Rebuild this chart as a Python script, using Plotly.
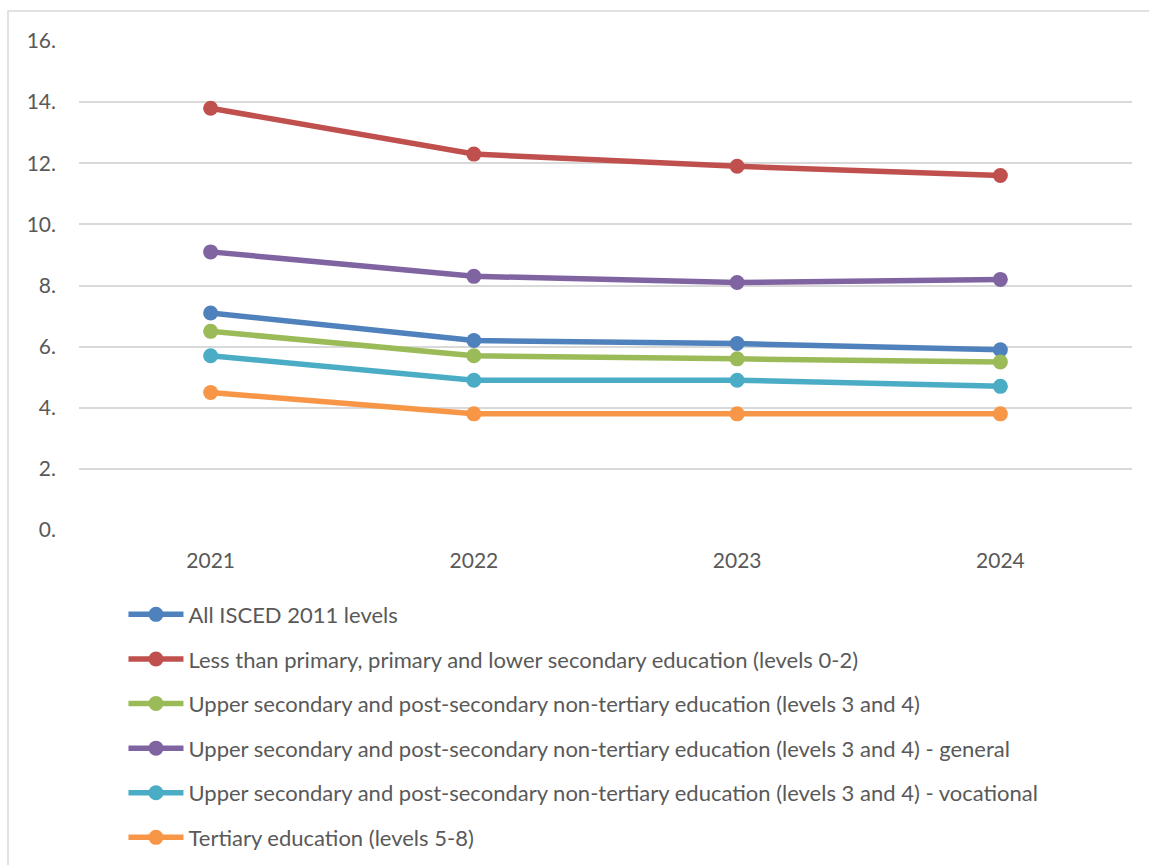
import plotly.graph_objects as go

years = ["2021", "2022", "2023", "2024"]
series_names = [
    "All ISCED 2011 levels",
    "Less than primary, primary and lower secondary education (levels 0-2)",
    "Upper secondary and post-secondary non-tertiary education (levels 3 and 4)",
    "Upper secondary and post-secondary non-tertiary education (levels 3 and 4) - general",
    "Upper secondary and post-secondary non-tertiary education (levels 3 and 4) - vocational",
    "Tertiary education (levels 5-8)",
]
all_levels = [7.1, 6.2, 6.1, 5.9]
levels_0_2 = [13.8, 12.3, 11.9, 11.6]
levels_3_4 = [6.5, 5.7, 5.6, 5.5]
levels_3_4_general = [9.1, 8.3, 8.1, 8.2]
levels_3_4_vocational = [5.7, 4.9, 4.9, 4.7]
levels_5_8 = [4.5, 3.8, 3.8, 3.8]
colors = ["#4F81BD", "#C0504D", "#9BBB59", "#8064A2", "#4BACC6", "#F79646"]
y_tickvals = [0, 2, 4, 6, 8, 10, 12, 14, 16]
y_ticktext = ["0.", "2.", "4.", "6.", "8.", "10.", "12.", "14.", "16."]

values = [all_levels, levels_0_2, levels_3_4, levels_3_4_general,
          levels_3_4_vocational, levels_5_8]

font_family = "Lato, Open Sans, sans-serif"
text_color = "#595959"

fig = go.Figure()
for i, (name, vals, col) in enumerate(zip(series_names, values, colors)):
    fig.add_trace(go.Scatter(
        x=years, y=vals, name=name, mode="lines+markers",
        line=dict(color=col, width=5.5),
        marker=dict(color=col, size=15),
        legendgroup=f"g{i}",
    ))

fig.update_layout(
    width=1149, height=865,
    margin=dict(l=79, r=17, t=41, b=335, autoexpand=False),
    paper_bgcolor="white", plot_bgcolor="white",
    font=dict(family=font_family, color=text_color, size=21),
    showlegend=True,
    legend=dict(
        x=(134 - 79) / 1053 - 0.01, xanchor="left",
        y=-0.13, yanchor="top",
        font=dict(size=22, color=text_color, family=font_family),
        itemwidth=55,
        tracegroupgap=13,
        bgcolor="rgba(0,0,0,0)",
    ),
    xaxis=dict(
        type="category", range=[-0.5, 3.5],
        showgrid=False, showline=False, zeroline=False,
        ticks="", ticklabelstandoff=16,
        tickfont=dict(size=21, color=text_color),
    ),
    yaxis=dict(
        range=[0, 16], tickvals=y_tickvals, ticktext=y_ticktext,
        showgrid=True, gridcolor="#D9D9D9", gridwidth=1.5,
        zeroline=False, showline=False, ticks="",
        ticklabelstandoff=22,
        tickfont=dict(size=21, color=text_color),
    ),
    shapes=[dict(
        type="rect", xref="paper", yref="paper",
        x0=(8 - 79) / 1053, x1=1.1,
        y0=-0.8, y1=1 + 30 / 489,
        line=dict(color="#D9D9D9", width=1.5),
        fillcolor="rgba(0,0,0,0)", layer="below",
    )],
)

fig.write_html("out.html")
